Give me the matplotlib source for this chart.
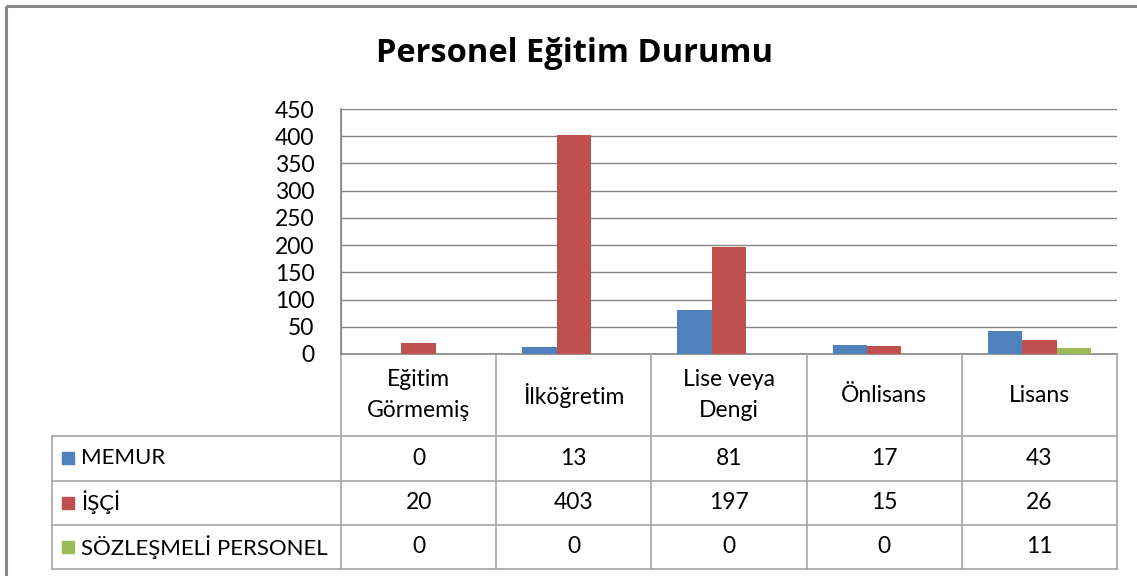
import matplotlib.pyplot as plt
import numpy as np
from matplotlib.patches import Rectangle

plt.rcParams['font.family'] = ['Lato', 'DejaVu Sans']

categories = ['Eğitim\nGörmemiş', 'İlköğretim', 'Lise veya\nDengi', 'Önlisans', 'Lisans']
series = ['MEMUR', 'İŞÇİ', 'SÖZLEŞMELİ PERSONEL']
memur = [0, 13, 81, 17, 43]
isci = [20, 403, 197, 15, 26]
sozlesmeli = [0, 0, 0, 0, 11]
colors = ['#4F81BD', '#C0504D', '#9BBB59']
yticks = [0, 50, 100, 150, 200, 250, 300, 350, 400, 450]

W, H = 1137, 576
fig = plt.figure(figsize=(W / 100, H / 100), dpi=100)

# overlay in pixel coordinates for frame / table
ov = fig.add_axes([0, 0, 1, 1])
ov.set_xlim(0, W)
ov.set_ylim(H, 0)
ov.axis('off')

grid_c = '#868686'
tab_c = '#A6A6A6'
ov.add_patch(Rectangle((6, 6), W + 20, H + 20, fill=False, ec='#878787', lw=2.2))

# plot area
L, R, T, B = 341, 1117, 109, 354
ax = fig.add_axes([L / W, 1 - B / H, (R - L) / W, (B - T) / H])
ax.patch.set_alpha(0)
data = [memur, isci, sozlesmeli]
x = np.arange(len(categories))
bw = 0.222
for i, (vals, c) in enumerate(zip(data, colors)):
    ax.bar(x + (i - 1) * bw, vals, bw, color=c, zorder=3)
ax.set_xlim(-0.5, len(categories) - 0.5)
ax.set_ylim(0, 450)
ax.set_yticks(yticks)
ax.set_yticklabels([str(t) for t in yticks], fontsize=16.5)
ax.tick_params(axis='y', length=0, pad=19)
ax.set_xticks([])
ax.grid(axis='y', color=grid_c, lw=1, zorder=0)
for s in ['top', 'right', 'bottom']:
    ax.spines[s].set_visible(False)
ax.spines['left'].set_color(grid_c)

# title
fig.text(575 / W, 1 - 54 / H, 'Personel Eğitim Durumu', ha='center', va='center',
         fontsize=23.5, fontweight='bold', family=['Open Sans', 'DejaVu Sans'])

# data table
col_edges = np.linspace(L, R, len(categories) + 1)
row_edges = [B, 436, 480.5, 524.5, 569]
tl = 52
for ye in row_edges[1:]:
    ov.plot([tl, R], [ye, ye], color=tab_c, lw=1.2)
ov.plot([L, R], [B, B], color=grid_c, lw=1.2)
ov.plot([tl, tl], [row_edges[1], row_edges[-1]], color=tab_c, lw=1.2)
for xe in col_edges:
    ov.plot([xe, xe], [B, row_edges[-1]], color=tab_c, lw=1.2)
ov.plot([L, L], [T, B], color=grid_c, lw=1.2)

for j, cat in enumerate(categories):
    cx = (col_edges[j] + col_edges[j + 1]) / 2
    cy = (row_edges[0] + row_edges[1]) / 2
    ov.text(cx, cy, cat, ha='center', va='center', fontsize=16.5, linespacing=1.6)

for i, (name, vals, c) in enumerate(zip(series, data, colors)):
    cy = (row_edges[i + 1] + row_edges[i + 2]) / 2
    ov.add_patch(Rectangle((62, cy - 6), 12, 12, color=c))
    ov.text(81, cy, name, ha='left', va='center', fontsize=16)
    for j, v in enumerate(vals):
        cx = (col_edges[j] + col_edges[j + 1]) / 2
        ov.text(cx, cy, str(v), ha='center', va='center', fontsize=16.5)

fig.savefig('out.png', dpi=100)
